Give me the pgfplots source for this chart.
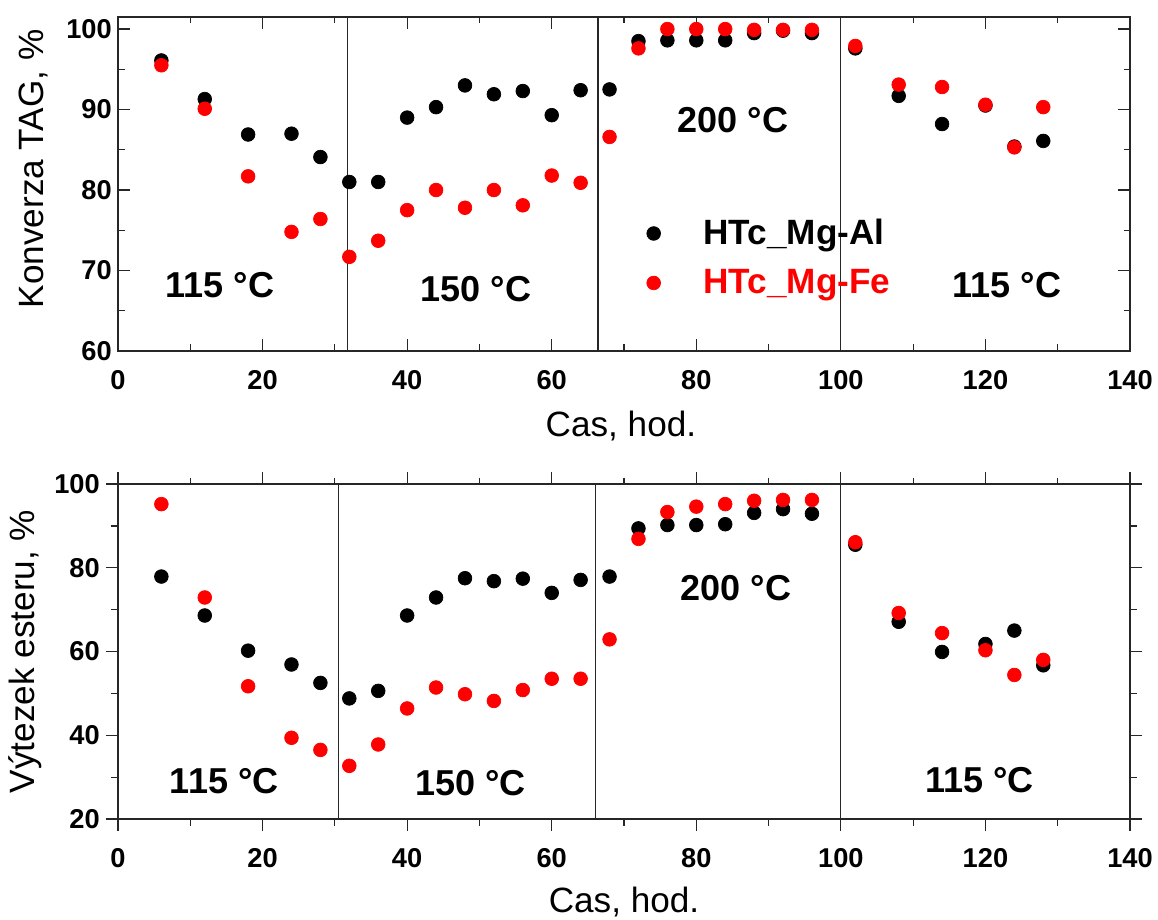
\documentclass[border=0pt]{standalone}
\usepackage{pgfplots}
\pgfplotsset{compat=1.18}
\usepackage{fontspec}
\setmainfont{Liberation Sans}

\pgfplotstableread{
t    al     fe
6    96.1   95.5
12   91.3   90.1
18   86.9   81.7
24   87.0   74.8
28   84.1   76.4
32   81.0   71.7
36   81.0   73.7
40   89.0   77.5
44   90.3   80.0
48   93.0   77.8
52   91.9   80.0
56   92.3   78.1
60   89.3   81.8
64   92.4   80.9
68   92.5   86.6
72   98.5   97.6
76   98.6   100.0
80   98.6   100.0
84   98.6   100.0
88   99.5   99.9
92   99.8   99.9
96   99.5   99.9
102  97.6   97.9
108  91.7   93.1
114  88.2   92.8
120  90.5   90.6
124  85.4   85.3
128  86.1   90.3
}\konverza

\pgfplotstableread{
t    al     fe
6    77.9   95.2
12   68.6   72.9
18   60.2   51.7
24   56.9   39.4
28   52.5   36.5
32   48.8   32.7
36   50.6   37.8
40   68.6   46.4
44   72.9   51.4
48   77.5   49.8
52   76.8   48.2
56   77.4   50.8
60   74.0   53.5
64   77.1   53.5
68   77.9   62.9
72   89.4   86.9
76   90.2   93.3
80   90.2   94.6
84   90.4   95.2
88   93.1   96.0
92   94.0   96.2
96   92.9   96.2
102  85.5   86.1
108  67.1   69.2
114  59.9   64.4
120  61.8   60.3
124  65.0   54.4
128  56.7   58.0
}\vytezek

\pgfplotsset{
  panel/.style={
    scale only axis,
    anchor=south west,
    width=20.24cm,
    xmin=0, xmax=140,
    xtick={0,20,...,140},
    minor x tick num=1,
    minor y tick num=1,
    axis line style={line width=0.7pt, black!85},
    every tick/.style={line width=0.7pt, black!85},
    major tick length=0.24cm,
    minor tick length=0.13cm,
    /pgf/number format/assume math mode=true,
    tick label style={font=\fontsize{15.5}{18}\selectfont\bfseries},
    label style={font=\fontsize{20}{23}\selectfont},
    xlabel={Cas, hod.},
  },
  dots/.style={only marks, mark=*, mark size=3.9pt},
}
\tikzset{temp/.style={font=\fontsize{20.5}{23}\selectfont\bfseries, anchor=base}}

\begin{document}
\begin{tikzpicture}
\path[use as bounding box] (0,0) rectangle (23.16cm,18.38cm);

% horni graf: konverze TAG
\begin{axis}[
    panel,
    at={(2.36cm,11.36cm)},
    height=6.68cm,
    ymin=60, ymax=101.5,
    ytick={60,70,...,100},
    tick align=inside,
    xticklabel style={anchor=base, yshift=-0.78cm},
    ylabel={Konverza TAG, \%},
    ylabel style={at={(axis description cs:-0.074,0.545)}, anchor=base},
    xlabel style={at={(axis description cs:0.497,-0.257)}, anchor=base},
    legend style={draw=none, fill=none, at={(axis description cs:0.517,0.416)}, anchor=north west,
      font=\fontsize{20}{23}\selectfont\bfseries, row sep=0.3cm, column sep=0.79cm},
    legend cell align=left,
]
\addplot[black!85, line width=0.6pt, forget plot] coordinates {(31.7,60) (31.7,101.5)};
\addplot[black!85, line width=0.6pt, forget plot] coordinates {(66.4,60) (66.4,101.5)};
\addplot[black!85, line width=0.6pt, forget plot] coordinates {(100,60) (100,101.5)};
\addplot[dots, black] table[x=t, y=al] {\konverza};
\addlegendentry{HTc\_Mg-Al}
\addplot[dots, red] table[x=t, y=fe] {\konverza};
\addlegendentry{\textcolor{red}{HTc\_Mg-Fe}}
\node[temp] at (axis cs:14.1,66.7) {115 °C};
\node[temp] at (axis cs:49.5,66.1) {150 °C};
\node[temp] at (axis cs:85.1,87.1) {200 °C};
\node[temp] at (axis cs:123,66.7) {115 °C};
\end{axis}

% dolni graf: vytezek esteru
\begin{axis}[
    panel,
    at={(2.36cm,2.0cm)},
    height=6.7cm,
    ymin=20, ymax=100,
    ytick={20,40,...,100},
    tick align=outside,
    xticklabel style={anchor=base, yshift=-0.72cm},
    ylabel={Výtezek esteru, \%},
    ylabel style={at={(axis description cs:-0.083,0.5)}, anchor=base},
    xlabel style={at={(axis description cs:0.5,-0.279)}, anchor=base},
]
\addplot[black!85, line width=0.6pt] coordinates {(30.5,20) (30.5,100)};
\addplot[black!85, line width=0.6pt] coordinates {(66.0,20) (66.0,100)};
\addplot[black!85, line width=0.6pt] coordinates {(100,20) (100,100)};
\addplot[dots, black] table[x=t, y=al] {\vytezek};
\addplot[dots, red] table[x=t, y=fe] {\vytezek};
\node[temp] at (axis cs:14.7,26.2) {115 °C};
\node[temp] at (axis cs:48.8,25.7) {150 °C};
\node[temp] at (axis cs:85.5,72.3) {200 °C};
\node[temp] at (axis cs:119.2,26.4) {115 °C};
\end{axis}
\end{tikzpicture}
\end{document}
